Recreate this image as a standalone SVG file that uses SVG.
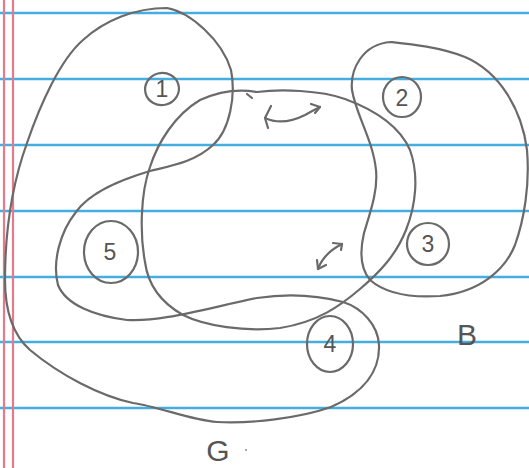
<svg xmlns="http://www.w3.org/2000/svg" width="529" height="468" viewBox="0 0 529 468">
<defs>
<style>
.rule{stroke:#45aee0;stroke-width:2.6;fill:none}
.margin{stroke:#e8798a;stroke-width:2.2;fill:none}
.ink{stroke:#6a6a6a;stroke-width:2.2;fill:none;stroke-linecap:round;stroke-linejoin:round}
.lbl{font-family:"Liberation Sans",Arial,sans-serif;font-size:23px;fill:#555555;text-anchor:middle}
.big{font-family:"Liberation Sans",Arial,sans-serif;font-size:30px;fill:#555555;text-anchor:middle}
</style>
</defs>
<rect width="529" height="468" fill="#ffffff"/>
<g id="paper">
<line class="rule" x1="0" y1="13" x2="529" y2="13"/>
<line class="rule" x1="0" y1="79" x2="529" y2="79"/>
<line class="rule" x1="0" y1="145" x2="529" y2="145"/>
<line class="rule" x1="0" y1="211" x2="529" y2="211"/>
<line class="rule" x1="0" y1="277" x2="529" y2="277"/>
<line class="rule" x1="0" y1="342" x2="529" y2="342"/>
<line class="rule" x1="0" y1="408" x2="529" y2="408"/>
<line class="margin" x1="4" y1="0" x2="4" y2="468"/>
<line class="margin" x1="13" y1="0" x2="13" y2="468"/>
</g>
<g id="set-G">
<path class="ink" d="M167,8 C190,12 222,40 231,70 C236,95 230,130 213,145 C195,162 170,166 150,171 C120,180 90,192 76,212 C60,232 52,262 58,285 C66,305 95,316 127,320 C160,322 200,310 257,298 C290,293 320,296 343,302 C362,308 378,325 379,345 C380,370 365,392 331,407 C300,418 250,424 217,422 C190,420 160,407 133,403 C100,396 60,375 30,350 C12,334 5,310 5,280 C5,240 10,190 27,143 C40,105 60,60 83,40 C105,20 135,8 167,8 Z"/>
</g>
<g id="set-B">
<path class="ink" d="M391,42 C410,44 440,47 465,57 C500,72 522,110 527,150 C530,185 524,220 515,245 C505,270 480,292 440,296 C410,298 385,293 370,280 C360,268 360,250 364,233 C371,210 378,190 376,170 C373,140 356,115 352,90 C350,70 362,44 391,42 Z"/>
</g>
<g id="set-middle">
<path class="ink" d="M257,92 C280,89 320,90 345,99 C375,110 400,127 410,150 C419,175 416,205 406,230 C396,255 380,272 360,289 C340,306 318,322 280,328 C245,332 205,326 183,315 C160,302 148,285 145,262 C140,235 140,195 150,167 C158,142 175,115 200,100 C220,91 240,89 257,92"/>
<path class="ink" d="M247,94 L252,98"/>
</g>
<g id="node-1">
<ellipse class="ink" cx="162" cy="89" rx="17" ry="16" transform="rotate(-15 162 89)"/>
<text class="lbl" x="162" y="97">1</text>
</g>
<g id="node-2">
<ellipse class="ink" cx="402" cy="97" rx="19" ry="20"/>
<text class="lbl" x="402" y="106">2</text>
</g>
<g id="node-3">
<ellipse class="ink" cx="428" cy="244" rx="21" ry="21"/>
<text class="lbl" x="428" y="252">3</text>
</g>
<g id="node-4">
<ellipse class="ink" cx="330" cy="344" rx="23" ry="28"/>
<text class="lbl" x="330" y="352">4</text>
</g>
<g id="node-5">
<ellipse class="ink" cx="111" cy="252" rx="27" ry="31"/>
<text class="lbl" x="110" y="260">5</text>
</g>
<g id="connectors">
<path class="ink" d="M265,118 C280,125 295,120 305,115 C312,111 316,109 320,107"/>
<path class="ink" d="M271,106 L265,118 L268,128"/>
<path class="ink" d="M311,104 L320,107 L315,113"/>
<path class="ink" d="M318,269 C322,258 330,250 342,244"/>
<path class="ink" d="M317,260 L318,269 L326,265"/>
<path class="ink" d="M333,243 L342,244 L341,250"/>
</g>
<g id="labels">
<text class="big" x="467" y="345">B</text>
<text class="big" x="218" y="461">G</text>
<circle cx="246" cy="450" r="1" fill="#888"/>
</g>
</svg>
